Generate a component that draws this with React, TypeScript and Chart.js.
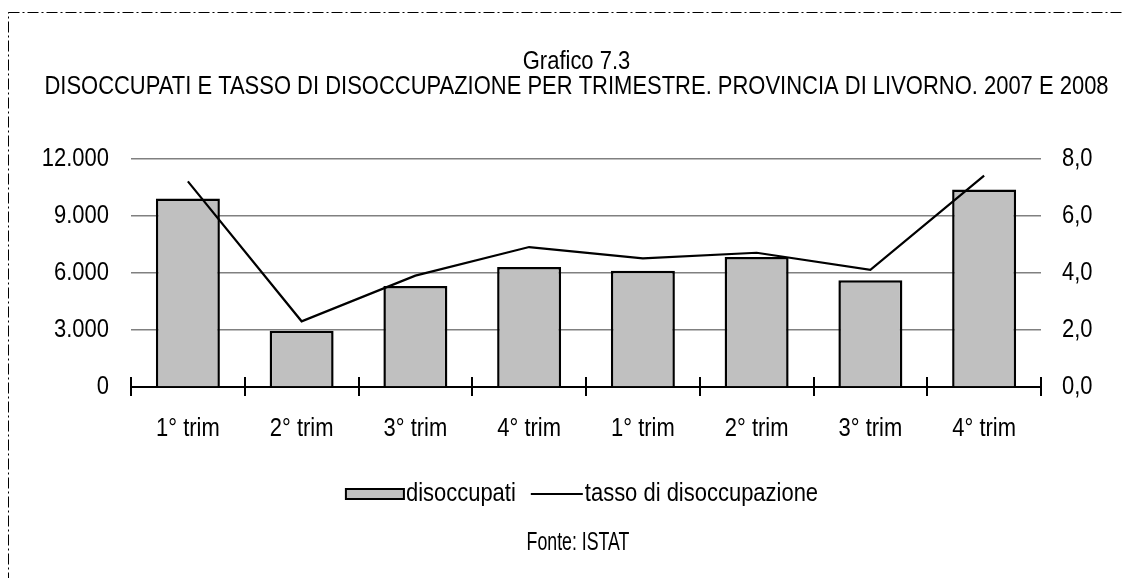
import React, { useEffect, useRef } from 'react';
import { Chart, registerables } from 'chart.js';

Chart.register(...registerables);

const categories = ['1° trim', '2° trim', '3° trim', '4° trim', '1° trim', '2° trim', '3° trim', '4° trim'];
const disoccupati = [9900, 2950, 5300, 6300, 6100, 6830, 5600, 10370];
const tasso = [7.2, 2.3, 3.9, 4.9, 4.5, 4.7, 4.1, 7.4];
const leftTickLabels = ['0', '3.000', '6.000', '9.000', '12.000'];
const rightTickLabels = ['0,0', '2,0', '4,0', '6,0', '8,0'];
const titleLines = [
  'Grafico 7.3',
  'DISOCCUPATI E TASSO DI DISOCCUPAZIONE PER TRIMESTRE. PROVINCIA DI LIVORNO. 2007 E 2008',
];
const seriesLabels = ['disoccupati', 'tasso di disoccupazione'];
const sourceText = 'Fonte: ISTAT';

const FONT = '"Liberation Sans", Arial, sans-serif';
const FONT_SIZE = 26;
const NARROW = 0.845; // horizontal compression to imitate a narrow typeface
const BAR_FILL = '#c0c0c0';
const GRID = '#808080';

function drawNarrow(
  ctx: CanvasRenderingContext2D,
  text: string,
  x: number,
  y: number,
  align: 'left' | 'center' | 'right',
  sx: number = NARROW
) {
  const w = ctx.measureText(text).width * sx;
  let left = x;
  if (align === 'center') left = x - w / 2;
  else if (align === 'right') left = x - w;
  ctx.save();
  ctx.translate(left, y);
  ctx.scale(sx, 1);
  ctx.textAlign = 'left';
  ctx.fillText(text, 0, 0);
  ctx.restore();
  return w;
}

const decorPlugin = {
  id: 'decor',
  afterDraw(chart: any) {
    const { ctx, chartArea, scales } = chart;
    const xs = scales.x;
    const yl = scales.y;
    const yr = scales.y1;
    ctx.save();

    // crossing tick marks on the category axis
    ctx.strokeStyle = '#000';
    ctx.lineWidth = 2;
    for (let i = 0; i <= categories.length; i++) {
      const px = Math.round(xs.getPixelForValue(i - 0.5));
      ctx.beginPath();
      ctx.moveTo(px, chartArea.bottom - 10);
      ctx.lineTo(px, chartArea.bottom + 9);
      ctx.stroke();
    }

    ctx.font = `${FONT_SIZE}px ${FONT}`;
    ctx.fillStyle = '#000';
    ctx.textBaseline = 'middle';

    // title
    const cx = chart.width / 2 + 0.5;
    drawNarrow(ctx, titleLines[0], cx, 62, 'center');
    drawNarrow(ctx, titleLines[1], cx, 87, 'center');

    // left axis labels
    yl.ticks.forEach((t: any, i: number) => {
      drawNarrow(ctx, leftTickLabels[i], chartArea.left - 22, yl.getPixelForValue(t.value), 'right');
    });
    // right axis labels
    yr.ticks.forEach((t: any, i: number) => {
      drawNarrow(ctx, rightTickLabels[i], chartArea.right + 21, yr.getPixelForValue(t.value), 'left');
    });
    // category labels
    chart.data.labels.forEach((lab: string, i: number) => {
      drawNarrow(ctx, lab, xs.getPixelForValue(i), chartArea.bottom + 42, 'center');
    });

    // legend
    const barDs = chart.data.datasets[1];
    const lineDs = chart.data.datasets[0];
    const boxW = 58;
    const lineW = 52;
    const gapSym = 2;
    const gapItems = 15;
    const w1 = ctx.measureText(barDs.label).width * NARROW;
    const w2 = ctx.measureText(lineDs.label).width * NARROW;
    const total = boxW + gapSym + w1 + gapItems + lineW + gapSym + w2;
    const cy = 494;
    let lx = 582 - total / 2;
    ctx.fillStyle = barDs.backgroundColor;
    ctx.fillRect(lx, cy - 5, boxW, 10);
    ctx.strokeStyle = barDs.borderColor;
    ctx.lineWidth = 2;
    ctx.strokeRect(lx, cy - 5, boxW, 10);
    lx += boxW + gapSym;
    ctx.fillStyle = '#000';
    drawNarrow(ctx, barDs.label, lx, cy, 'left');
    lx += w1 + gapItems;
    ctx.strokeStyle = lineDs.borderColor;
    ctx.lineWidth = 2;
    ctx.beginPath();
    ctx.moveTo(lx, cy);
    ctx.lineTo(lx + lineW, cy);
    ctx.stroke();
    lx += lineW + gapSym;
    drawNarrow(ctx, lineDs.label, lx, cy, 'left');

    // source
    ctx.font = `25px ${FONT}`;
    drawNarrow(ctx, sourceText, 578, 543, 'center', 0.71);

    // dash-dot frame
    ctx.strokeStyle = '#000';
    ctx.lineWidth = 1;
    ctx.setLineDash([11, 3, 2, 3]);
    ctx.strokeRect(8.5, 12.5, 1300, 800);
    ctx.restore();
  },
};

export default function App() {
  const ref = useRef<HTMLCanvasElement | null>(null);

  useEffect(() => {
    if (!ref.current) return;
    const chart = new Chart(ref.current, {
      type: 'bar',
      data: {
        labels: categories,
        datasets: [
          {
            type: 'line',
            label: seriesLabels[1],
            data: tasso,
            yAxisID: 'y1',
            borderColor: '#000',
            borderWidth: 2.2,
            pointRadius: 0,
            tension: 0,
            fill: false,
            order: 0,
          } as any,
          {
            type: 'bar',
            label: seriesLabels[0],
            data: disoccupati,
            yAxisID: 'y',
            backgroundColor: BAR_FILL,
            borderColor: '#000',
            borderWidth: 2.5,
            borderSkipped: 'bottom',
            categoryPercentage: 1,
            barPercentage: 0.5625,
            order: 1,
          },
        ],
      },
      options: {
        responsive: false,
        animation: false,
        devicePixelRatio: 1,
        layout: { padding: { left: 0, right: 0, top: 158.5, bottom: 0 } },
        plugins: {
          legend: { display: false },
          tooltip: { enabled: false },
          title: { display: false },
        },
        scales: {
          x: {
            offset: true,
            grid: { display: false, drawTicks: false },
            border: { display: true, color: '#000', width: 2 },
            ticks: { display: false },
            afterFit: (s: any) => {
              s.height = 191;
            },
          },
          y: {
            position: 'left',
            min: 0,
            max: 12000,
            grid: { display: true, drawTicks: false, color: GRID, lineWidth: 1.5 },
            border: { display: false },
            ticks: { display: false, stepSize: 3000 },
            afterFit: (s: any) => {
              s.width = 131;
            },
          },
          y1: {
            position: 'right',
            min: 0,
            max: 8,
            grid: { display: false, drawTicks: false },
            border: { display: false },
            ticks: { display: false, stepSize: 2 },
            afterFit: (s: any) => {
              s.width = 111;
            },
          },
        },
      },
      plugins: [decorPlugin],
    });
    return () => chart.destroy();
  }, []);

  return (
    <div
      style={{
        position: 'fixed',
        left: 0,
        top: 0,
        width: 1124,
        height: 578,
        overflow: 'hidden',
        background: '#fff',
      }}
    >
      <canvas ref={ref} width={1152} height={578} style={{ display: 'block', width: 1152, height: 578 }} />
    </div>
  );
}
